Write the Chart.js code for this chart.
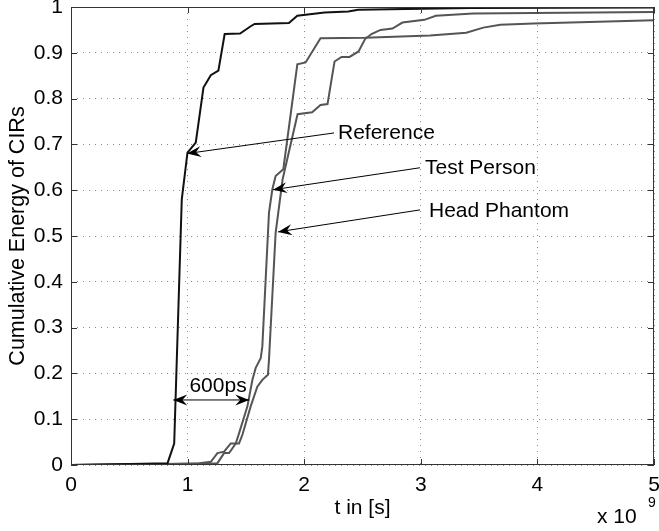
<!DOCTYPE html>
<html><head><meta charset="utf-8">
<script src="https://cdn.jsdelivr.net/npm/chart.js@4"></script>
<style>html,body{margin:0;padding:0;background:#fff}canvas{display:block}</style>
</head><body>
<canvas id="c" width="659" height="531"></canvas>
<script>
// ---- data (t in units of 1e-9 s) ----
const referenceT = [0, 0.5, 0.828, 0.885, 0.950, 0.999, 1.070, 1.136, 1.199, 1.264, 1.318, 1.450, 1.541, 1.575, 1.869, 1.941, 2.175, 2.378, 2.463, 3.425, 5.0];
const referenceV = [0, 0.002, 0.004, 0.047, 0.580, 0.682, 0.704, 0.824, 0.851, 0.861, 0.941, 0.942, 0.958, 0.963, 0.965, 0.981, 0.988, 0.990, 0.994, 0.998, 0.999];

const testPersonT = [0, 0.8, 1.1, 1.199, 1.256, 1.313, 1.370, 1.413, 1.441, 1.513, 1.556, 1.584, 1.627, 1.641, 1.698, 1.727, 1.755, 1.821, 1.941, 2.012, 2.140, 2.521, 3.08, 3.390, 3.536, 3.682, 3.968, 5.0];
const testPersonV = [0, 0.002, 0.004, 0.007, 0.026, 0.029, 0.047, 0.047, 0.069, 0.128, 0.186, 0.212, 0.233, 0.259, 0.551, 0.602, 0.631, 0.646, 0.875, 0.879, 0.932, 0.933, 0.938, 0.944, 0.955, 0.961, 0.964, 0.971];

const headPhantomT = [0, 1.0, 1.256, 1.313, 1.356, 1.413, 1.441, 1.470, 1.541, 1.598, 1.641, 1.689, 1.698, 1.755, 1.815, 1.943, 2.068, 2.140, 2.200, 2.260, 2.320, 2.389, 2.466, 2.522, 2.577, 2.654, 2.757, 2.842, 3.031, 3.129, 3.450, 5.0];
const headPhantomV = [0, 0.002, 0.004, 0.026, 0.026, 0.047, 0.047, 0.066, 0.128, 0.171, 0.186, 0.197, 0.230, 0.507, 0.624, 0.766, 0.770, 0.786, 0.788, 0.881, 0.891, 0.891, 0.903, 0.930, 0.941, 0.950, 0.953, 0.966, 0.972, 0.981, 0.986, 0.989];

const xTicks = [0, 1, 2, 3, 4, 5];
const xTickLabels = ['0', '1', '2', '3', '4', '5'];
const yTicks = [0, 0.1, 0.2, 0.3, 0.4, 0.5, 0.6, 0.7, 0.8, 0.9, 1];
const yTickLabels = ['0', '0.1', '0.2', '0.3', '0.4', '0.5', '0.6', '0.7', '0.8', '0.9', '1'];

const seriesNames = ['Reference', 'Test Person', 'Head Phantom'];
// annotation arrows (data coordinates): tail -> tip, label position
const arrowTails = [[2.256, 0.725], [2.993, 0.649], [2.993, 0.557]];
const arrowTips  = [[0.995, 0.680], [1.732, 0.601], [1.775, 0.509]];
const labelPos   = [[2.29, 0.725], [3.036, 0.649], [3.07, 0.555]];
const spanLabel = '600ps';
const spanFrom = [0.877, 0.142], spanTo = [1.529, 0.142], spanLabelPos = [1.261, 0.173];

const FONT = '"Liberation Sans", Arial, Helvetica, sans-serif';
Chart.defaults.font.family = FONT;
Chart.defaults.font.size = 21;
Chart.defaults.color = '#000';

function pts(ts, vs) { return ts.map((t, i) => ({x: t, y: vs[i]})); }

function arrowHead(ctx, fx, fy, tx, ty, len, hw) {
  const ang = Math.atan2(ty - fy, tx - fx);
  ctx.save();
  ctx.translate(tx, ty); ctx.rotate(ang);
  ctx.beginPath();
  ctx.moveTo(0, 0);
  ctx.lineTo(-len, -hw);
  ctx.lineTo(-len * 0.65, 0);
  ctx.lineTo(-len, hw);
  ctx.closePath();
  ctx.fill();
  ctx.restore();
}

const overlay = {
  id: 'overlay',
  afterDatasetsDraw(chart) {
    const {ctx, chartArea: a, scales: {x, y}} = chart;
    ctx.save();
    ctx.strokeStyle = '#333'; ctx.lineWidth = 1;
    ctx.strokeRect(Math.round(a.left) + 0.5, Math.round(a.top) + 0.5, Math.round(a.right - a.left) - 1, Math.round(a.bottom - a.top) - 1);
    ctx.beginPath();
    xTicks.forEach(v => {
      const px = Math.round(x.getPixelForValue(v)) + 0.5;
      ctx.moveTo(px, a.bottom); ctx.lineTo(px, a.bottom - 6);
      ctx.moveTo(px, a.top); ctx.lineTo(px, a.top + 6);
    });
    yTicks.forEach(v => {
      const py = Math.round(y.getPixelForValue(v)) + 0.5;
      ctx.moveTo(a.left, py); ctx.lineTo(a.left + 6, py);
      ctx.moveTo(a.right, py); ctx.lineTo(a.right - 6, py);
    });
    ctx.stroke();

    // annotation arrows
    ctx.strokeStyle = '#000'; ctx.fillStyle = '#000'; ctx.lineWidth = 1;
    ctx.font = '21px ' + FONT;
    ctx.textBaseline = 'middle'; ctx.textAlign = 'left';
    seriesNames.forEach((name, i) => {
      const fx = x.getPixelForValue(arrowTails[i][0]), fy = y.getPixelForValue(arrowTails[i][1]);
      const tx = x.getPixelForValue(arrowTips[i][0]), ty = y.getPixelForValue(arrowTips[i][1]);
      ctx.beginPath(); ctx.moveTo(fx, fy); ctx.lineTo(tx, ty); ctx.stroke();
      arrowHead(ctx, fx, fy, tx, ty, 14, 5.5);
      ctx.fillText(name, x.getPixelForValue(labelPos[i][0]), y.getPixelForValue(labelPos[i][1]));
    });
    // 600ps double arrow
    const ax = x.getPixelForValue(spanFrom[0]), ay = y.getPixelForValue(spanFrom[1]);
    const bx = x.getPixelForValue(spanTo[0]), by = y.getPixelForValue(spanTo[1]);
    ctx.beginPath(); ctx.moveTo(ax, ay); ctx.lineTo(bx, by); ctx.stroke();
    arrowHead(ctx, bx, by, ax, ay, 14, 5.5);
    arrowHead(ctx, ax, ay, bx, by, 14, 5.5);
    ctx.textAlign = 'center';
    ctx.fillText(spanLabel, x.getPixelForValue(spanLabelPos[0]), y.getPixelForValue(spanLabelPos[1]));

    // exponent
    ctx.textAlign = 'left';
    ctx.font = '21px ' + FONT;
    ctx.fillText('x 10', 597, 517);
    ctx.font = '14px ' + FONT;
    ctx.fillText('9', 648, 503);
    ctx.restore();
  }
};

new Chart(document.getElementById('c'), {
  type: 'line',
  data: {
    datasets: [
      {label: seriesNames[0], data: pts(referenceT, referenceV), borderColor: '#111', borderWidth: 2},
      {label: seriesNames[1], data: pts(testPersonT, testPersonV), borderColor: '#555', borderWidth: 2},
      {label: seriesNames[2], data: pts(headPhantomT, headPhantomV), borderColor: '#555', borderWidth: 2}
    ]
  },
  options: {
    responsive: false,
    animation: false,
    events: [],
    elements: {point: {radius: 0}, line: {tension: 0}},
    layout: {padding: {top: 7, right: 5, left: 0, bottom: 0}},
    plugins: {legend: {display: false}, tooltip: {enabled: false}},
    scales: {
      x: {
        type: 'linear', min: 0, max: 5,
        afterBuildTicks(s) { s.ticks = xTicks.map(v => ({value: v})); },
        ticks: {padding: 8, maxRotation: 0, autoSkip: false,
          callback: v => xTickLabels[xTicks.indexOf(v)] ?? ''},
        grid: {color: '#8c8c8c', lineWidth: 1, drawTicks: false},
        border: {display: false, dash: [1, 5]},
        title: {display: true, text: 't in [s]', font: {size: 21}, padding: {top: 0, bottom: 10}},
        afterFit(s) { s.height = 66; s.paddingLeft = 0; s.paddingRight = 0; }
      },
      y: {
        type: 'linear', min: 0, max: 1,
        afterBuildTicks(s) { s.ticks = yTicks.map(v => ({value: v})); },
        ticks: {padding: 8, autoSkip: false,
          callback: v => yTickLabels[Math.round(v * 10)] ?? ''},
        grid: {color: '#8c8c8c', lineWidth: 1, drawTicks: false},
        border: {display: false, dash: [1, 5]},
        title: {display: true, text: 'Cumulative Energy of CIRs', font: {size: 21.5}, padding: {top: 5, bottom: 0}},
        afterFit(s) { s.width = 71; s.paddingTop = 0; s.paddingBottom = 0; }
      }
    }
  },
  plugins: [overlay]
});
</script>
</body></html>
